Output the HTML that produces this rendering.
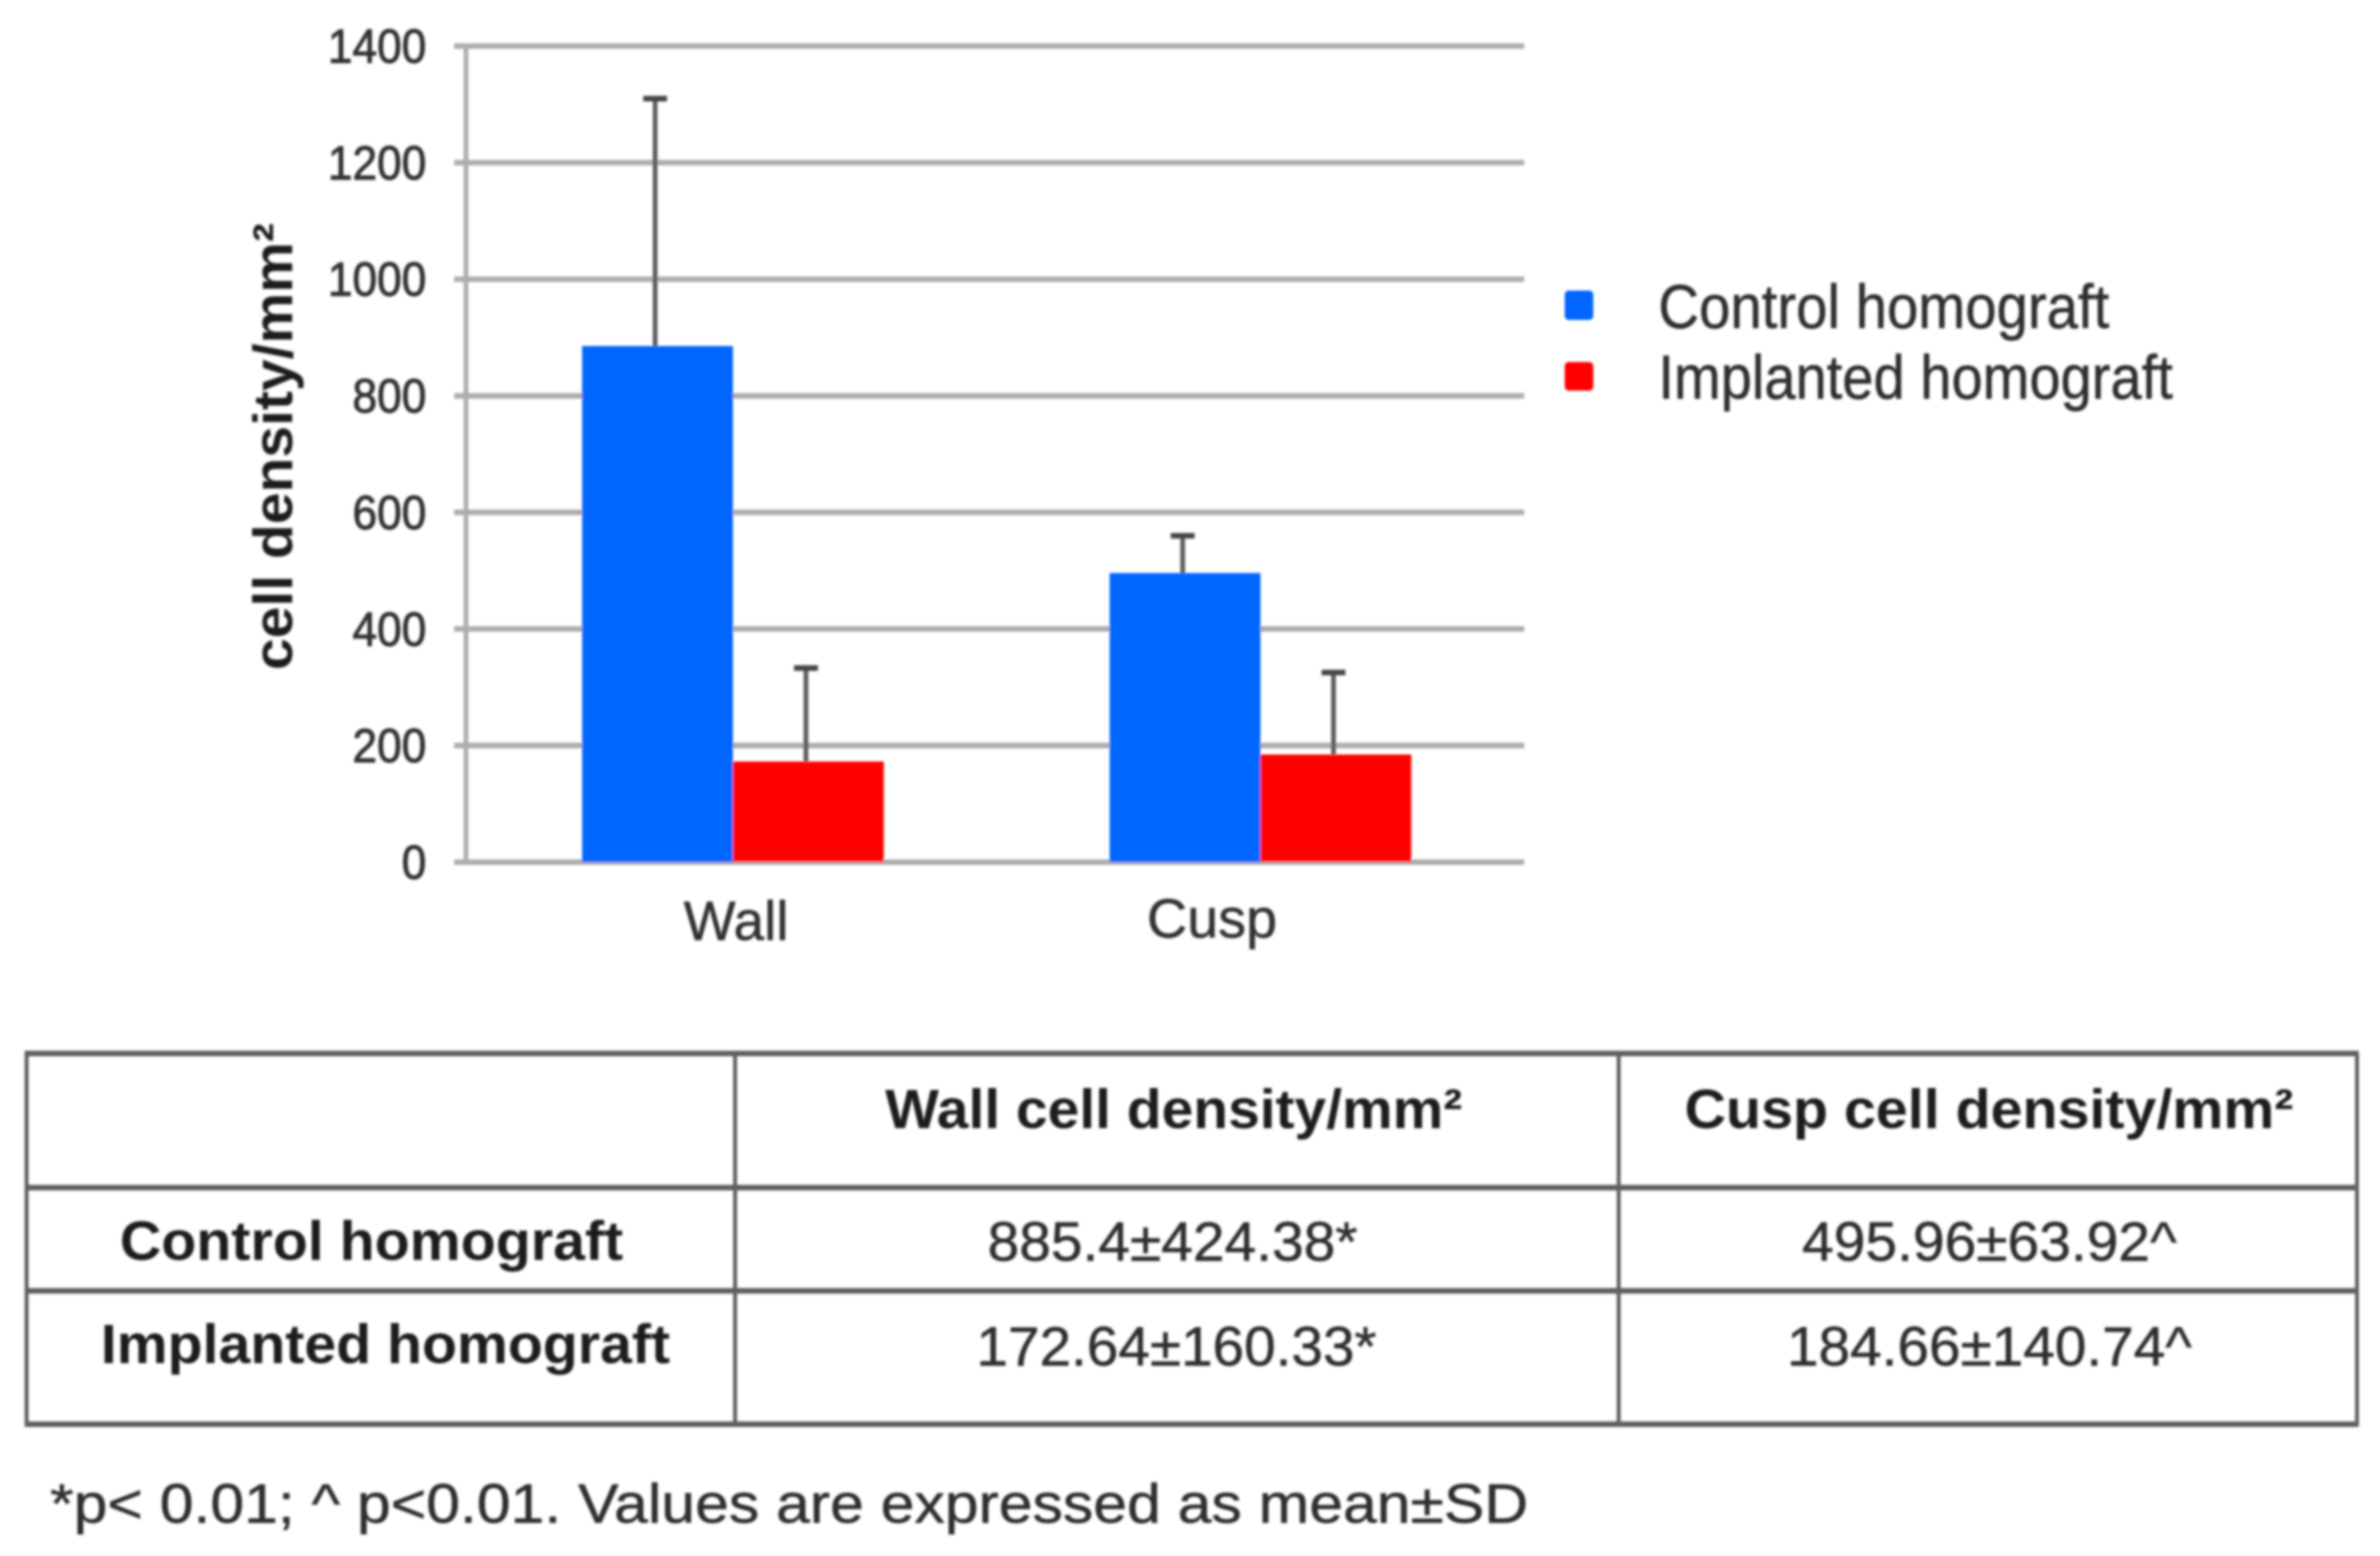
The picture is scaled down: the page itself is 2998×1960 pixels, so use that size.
<!DOCTYPE html>
<html lang="en">
<head>
<meta charset="utf-8">
<title>Cell density chart and table</title>
<style>
html,body{margin:0;padding:0;background:#fff;width:2998px;height:1960px;overflow:hidden}
svg{display:block}
text{font-family:"Liberation Sans",sans-serif}
.b{font-weight:bold;fill:#1a1a1a}
.r{fill:#2e2e2e;stroke:#2e2e2e;stroke-width:0.7}
.tl{stroke:#5e5e5e;stroke-width:7;fill:none}
.tv{stroke:#606060;stroke-width:5;fill:none}
</style>
</head>
<body>
<svg id="figure" xmlns="http://www.w3.org/2000/svg" width="2998" height="1960" viewBox="0 0 2998 1960">
  <defs>
    <filter id="soft" x="-2%" y="-2%" width="104%" height="104%"><feGaussianBlur stdDeviation="1.5"/></filter>
  </defs>
  <g filter="url(#soft)">
    <g id="chart"></g>

    <g>
      <g>
        <rect x="1971" y="366" width="36" height="37" rx="5" fill="#0066ff"/>
        <text class="r" x="2089" y="413" font-size="78" textLength="568" lengthAdjust="spacingAndGlyphs">Control homograft</text>
      </g>
      <g>
        <rect x="1971" y="456" width="36" height="36" rx="5" fill="#ff0000"/>
        <text class="r" x="2089" y="502" font-size="78" textLength="648" lengthAdjust="spacingAndGlyphs">Implanted homograft</text>
      </g>
    </g>

    <g>
      <g>
        <line class="tl" x1="31" x2="2971" y1="1327" y2="1327"/>
        <line class="tl" x1="31" x2="2971" y1="1496" y2="1496"/>
        <line class="tl" x1="31" x2="2971" y1="1626" y2="1626"/>
        <line class="tl" x1="31" x2="2971" y1="1794" y2="1794"/>
        <line class="tv" x1="33.5" x2="33.5" y1="1325" y2="1796"/>
        <line class="tv" x1="926" x2="926" y1="1325" y2="1796"/>
        <line class="tv" x1="2039" x2="2039" y1="1325" y2="1796"/>
        <line class="tv" x1="2969" x2="2969" y1="1325" y2="1796"/>
      </g>
      <text class="b" x="1115" y="1421" font-size="70" textLength="727" lengthAdjust="spacingAndGlyphs">Wall cell density/mm²</text>
      <text class="b" x="2122" y="1421" font-size="70" textLength="767" lengthAdjust="spacingAndGlyphs">Cusp cell density/mm²</text>
      <text class="b" x="151" y="1587" font-size="70" textLength="634" lengthAdjust="spacingAndGlyphs">Control homograft</text>
      <text class="b" x="127" y="1717" font-size="70" textLength="717" lengthAdjust="spacingAndGlyphs">Implanted homograft</text>
      <text class="r" x="1244" y="1588" font-size="70" textLength="466" lengthAdjust="spacingAndGlyphs">885.4±424.38*</text>
      <text class="r" x="2270" y="1588" font-size="70" textLength="472" lengthAdjust="spacingAndGlyphs">495.96±63.92^</text>
      <text class="r" x="1230" y="1720" font-size="70" textLength="504" lengthAdjust="spacingAndGlyphs">172.64±160.33*</text>
      <text class="r" x="2251" y="1720" font-size="70" textLength="510" lengthAdjust="spacingAndGlyphs">184.66±140.74^</text>
    </g>

    <text class="r" x="63" y="1918" font-size="70" textLength="1862" lengthAdjust="spacingAndGlyphs">*p&lt; 0.01; ^ p&lt;0.01. Values are expressed as mean±SD</text>
  </g>
</svg>
<script>
const categories = ['Wall', 'Cusp'];
const controlMeans = [885.4, 495.96];
const controlSD = [424.38, 63.92];
const implantedMeans = [172.64, 184.66];
const implantedSD = [160.33, 140.74];
const yTicks = [0, 200, 400, 600, 800, 1000, 1200, 1400];

const NS = 'http://www.w3.org/2000/svg';
const chart = document.getElementById('chart');
const yMax = 1400;
const plotBottom = 1086;
const plotTop = 58;
const plotLeft = 587;
const plotRight = 1920;
const bandStart = 591;
const barWidth = 190;

function yScale(v) {
  return plotBottom - (v / yMax) * (plotBottom - plotTop);
}
function bandCenter(i) {
  return bandStart + (plotRight - bandStart) * (i + 0.5) / categories.length;
}
function make(tag, attrs, text) {
  const el = document.createElementNS(NS, tag);
  for (const k in attrs) el.setAttribute(k, attrs[k]);
  if (text !== undefined) el.textContent = text;
  chart.appendChild(el);
  return el;
}

yTicks.forEach(function (t) {
  const y = yScale(t);
  const grid = make('line', { x1: 572, x2: plotRight, y1: y, y2: y, stroke: '#adadad', 'stroke-width': 7 });
  
  
  const label = String(t);
  const tick = make('text', {
    x: 537, y: y + 21, 'text-anchor': 'end', 'font-size': 60, fill: '#333', stroke: '#333', 'stroke-width': 1.2,
    textLength: label.length * 31, lengthAdjust: 'spacingAndGlyphs'
  }, label);
  
  
});

const yAxis = make('line', { x1: plotLeft, x2: plotLeft, y1: plotTop - 3, y2: plotBottom + 3, stroke: '#adadad', 'stroke-width': 6 });



function drawBar(left, mean, color, name) {
  const top = yScale(mean);
  const rect = make('rect', { x: left, y: top, width: barWidth, height: plotBottom - top, fill: color });
  
  
}
function drawError(x, mean, sd, name) {
  const top = yScale(mean);
  const end = yScale(mean + sd);
  const stem = make('line', { x1: x, x2: x, y1: top, y2: end, stroke: '#5c5c5c', 'stroke-width': 6 });
  
  
  const cap = make('line', { x1: x - 15, x2: x + 15, y1: end, y2: end, stroke: '#444', 'stroke-width': 7 });
  
  
}

categories.forEach(function (c, i) {
  const mid = bandCenter(i);
  const key = c.toLowerCase();
  drawBar(mid - barWidth, controlMeans[i], '#0066ff', 'control-' + key);
  drawBar(mid, implantedMeans[i], '#ff0000', 'implanted-' + key);
  drawError(mid - barWidth / 2 - 3, controlMeans[i], controlSD[i], 'control-' + key);
  drawError(mid + barWidth / 2 - 3, implantedMeans[i], implantedSD[i], 'implanted-' + key);
  const labelX = mid + (i === 0 ? 4 : -61);
  const labelY = i === 0 ? 1184 : 1181;
  const labelEl = make('text', {
    x: labelX, y: labelY, 'text-anchor': 'middle', 'font-size': 70, fill: '#333', stroke: '#333', 'stroke-width': 0.7,
    textLength: i === 0 ? 132 : 164, lengthAdjust: 'spacingAndGlyphs'
  }, c);
  
  
});

const title = make('text', {
  transform: 'translate(368 844) rotate(-90)', 'font-size': 70, 'font-weight': 'bold', fill: '#1f1f1f',
  textLength: 563, lengthAdjust: 'spacingAndGlyphs'
}, 'cell density/mm²');


</script>
</body>
</html>
